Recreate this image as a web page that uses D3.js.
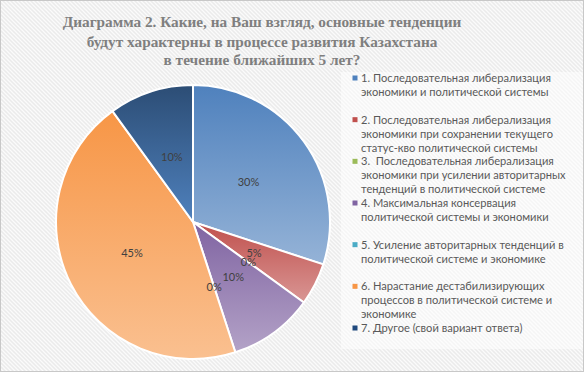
<!DOCTYPE html>
<html><head><meta charset="utf-8">
<script src="https://cdn.jsdelivr.net/npm/d3@7"></script>
<style>html,body{margin:0;padding:0;background:#fff;}svg{display:block;} text{white-space:pre;}</style>
</head><body>
<script>
const titleLines = ["Диаграмма 2. Какие, на Ваш взгляд, основные тенденции",
  "будут характерны в процессе развития Казахстана",
  "в течение ближайших 5 лет?"];
const categories = [
  ["1. Последовательная либерализация", "экономики и политической системы"],
  ["2. Последовательная либерализация", "экономики при сохранении текущего", "статус-кво политической системы"],
  ["3.  Последовательная либерализация", "экономики при усилении авторитарных", "тенденций в политической системе"],
  ["4. Максимальная консервация", "политической системы и экономики"],
  ["5. Усиление авторитарных тенденций в", "политической системе и экономике"],
  ["6. Нарастание дестабилизирующих", "процессов в политической системе и", "экономике"],
  ["7. Другое (свой вариант ответа)"]
];
const values = [30, 5, 0, 10, 0, 45, 10];
const labels = ["30%", "5%", "0%", "10%", "0%", "45%", "10%"];
const colorsTop = ["#4f81bd", "#c0504d", "#9bbb59", "#8064a2", "#4bacc6", "#f79646", "#2c4d75"];
const colorsBottom = ["#95b3d7", "#d99694", "#c3d69b", "#b3a2c7", "#93cddd", "#fac090", "#4f81bd"];
const legendMarker = ["#4f81bd", "#c0504d", "#9bbb59", "#8064a2", "#4bacc6", "#f79646", "#1f497d"];

const W = 585, H = 374;
const svg = d3.select("body").append("svg").attr("width", W).attr("height", H);
const defs = svg.append("defs");
const pat = defs.append("pattern").attr("id", "hatch").attr("patternUnits", "userSpaceOnUse")
  .attr("width", 4).attr("height", 4);
pat.append("rect").attr("width", 4).attr("height", 4).attr("fill", "#ebebeb");
pat.append("path").attr("d", "M-1,-1 L5,5 M-1,3 L1,5 M3,-1 L5,1").attr("stroke", "#fbfbfb").attr("stroke-width", 1.3);

svg.append("rect").attr("x", 0.5).attr("y", 0.5).attr("width", W - 2).attr("height", H - 3)
  .attr("fill", "url(#hatch)").attr("stroke", "#c8c8c8");
svg.append("rect").attr("x", 341).attr("y", 72).attr("width", 242).attr("height", 277)
  .attr("fill", "#ffffff").attr("opacity", 0.5);

// Title
const title = svg.append("text").attr("text-anchor", "middle")
  .attr("font-family", "'Liberation Serif', 'DejaVu Serif', serif").attr("font-weight", "bold")
  .attr("fill", "#7f7f7f").attr("font-size", 17);
const tBase = [27, 46.5, 65];
titleLines.forEach((t, i) => title.append("tspan").attr("x", 262).attr("y", tBase[i]).text(t));
const tw = title.select("tspan").node().getComputedTextLength();
title.attr("font-size", 17 * 399 / tw);

// Pie
const cx = 193, cy = 222, r = 137;
const pie = d3.pie().sort(null).value(d => d);
const arcs = pie(values);
const arc = d3.arc().innerRadius(0).outerRadius(r);
const g = svg.append("g").attr("transform", `translate(${cx},${cy})`);
arcs.forEach((a, i) => {
  const tmp = g.append("path").attr("d", arc(a));
  const bb = tmp.node().getBBox();
  tmp.remove();
  const gr = defs.append("linearGradient").attr("id", "grad" + i).attr("gradientUnits", "userSpaceOnUse")
    .attr("x1", 0).attr("x2", 0).attr("y1", bb.y).attr("y2", bb.y + Math.max(bb.height, 1));
  gr.append("stop").attr("offset", 0).attr("stop-color", colorsTop[i]);
  gr.append("stop").attr("offset", 1).attr("stop-color", colorsBottom[i]);
});
arcs.forEach((a, i) => {
  if (a.endAngle - a.startAngle <= 0) return;
  g.append("path").attr("d", arc(a))
    .attr("fill", `url(#grad${i})`).attr("stroke", "#ffffff").attr("stroke-width", 2)
    .attr("stroke-linejoin", "round");
});
arcs.forEach((a, i) => {
  const [x, y] = arc.centroid(a);
  g.append("text").attr("x", x).attr("y", y).attr("dy", "0.35em")
    .attr("text-anchor", "middle").attr("font-family", "Lato, 'Open Sans', sans-serif")
    .attr("font-size", 11).attr("fill", "#404040").text(labels[i]);
});

// Legend
const legY = d3.scaleLinear().domain([0, categories.length - 1]).range([78, 328]);
const leg = svg.append("g").attr("font-family", "Lato, 'Open Sans', sans-serif").attr("fill", "#595959");
categories.forEach((lines, i) => {
  const y0 = legY(i);
  leg.append("rect").attr("x", 352.5).attr("y", y0 - 2.5).attr("width", 5).attr("height", 5).attr("fill", legendMarker[i]);
  const t = leg.append("text").attr("font-size", 11.5);
  lines.forEach((l, j) => t.append("tspan").attr("x", 361).attr("y", y0 + 4 + j * 14).text(l));
});
const first = leg.select("text tspan").node().getComputedTextLength();
leg.selectAll("text").attr("font-size", 11.5 * 190 / first);
</script>
</body></html>
